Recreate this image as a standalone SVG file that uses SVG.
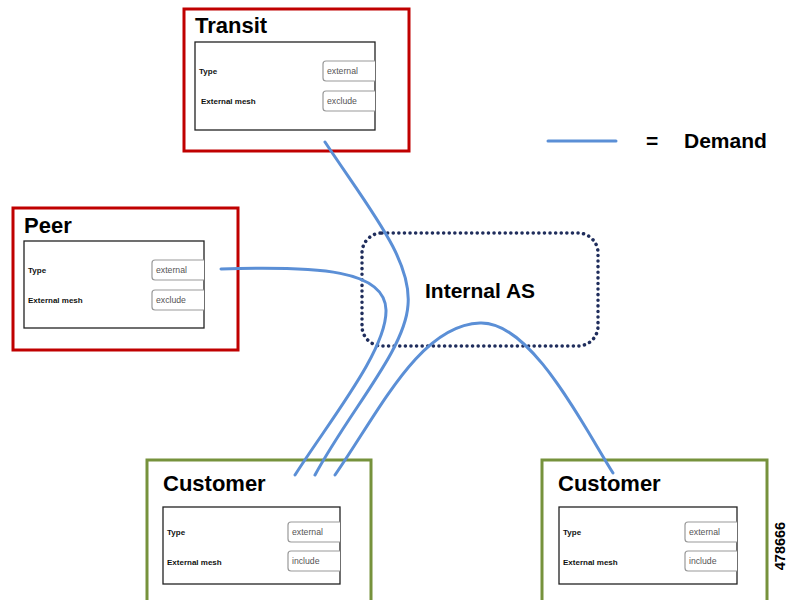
<svg xmlns="http://www.w3.org/2000/svg" width="788" height="600" viewBox="0 0 788 600">
<style>
.red{fill:#fff;stroke:#c00000;stroke-width:3}
.green{fill:#fff;stroke:#76923c;stroke-width:3}
.inner{fill:#fff;stroke:#222;stroke-width:1.3}
.field{fill:#fff;stroke:#999;stroke-width:1.2}
.title{font-family:"Liberation Sans",Arial,sans-serif;font-weight:bold;font-size:22px;fill:#000}
.lbl{font-family:"Liberation Sans",Arial,sans-serif;font-weight:bold;font-size:8px;fill:#111}
.val{font-family:"Liberation Sans",Arial,sans-serif;font-size:8.7px;fill:#555}
.big{font-family:"Liberation Sans",Arial,sans-serif;font-weight:bold;font-size:21px;fill:#000}
.demand{fill:none;stroke:#5b8fd6;stroke-width:3;stroke-linecap:round}
</style>
<g id="internal-as">
<rect x="362" y="233" width="236" height="113" rx="20" fill="none" stroke="#1f2d5c" stroke-width="3.5" stroke-dasharray="0.1 5.5" stroke-linecap="round"/>
<text class="big" x="425" y="298">Internal AS</text>
</g>
<g id="transit">
<rect class="red" x="184" y="9" width="225" height="142"/>
<text class="title" x="195" y="33">Transit</text>
<rect class="inner" x="195" y="42" width="180" height="88"/>
<text class="lbl" x="199" y="74">Type</text>
<text class="lbl" x="201" y="104">External mesh</text>
<path class="field" d="M375,61 H326 Q323,61 323,64 V78 Q323,81 326,81 H375"/>
<path class="field" d="M375,91 H326 Q323,91 323,94 V108 Q323,111 326,111 H375"/>
<text class="val" x="327" y="74">external</text>
<text class="val" x="327" y="104">exclude</text>
</g>
<g id="peer">
<rect class="red" x="13" y="208" width="225" height="142"/>
<text class="title" x="24" y="233">Peer</text>
<rect class="inner" x="24" y="241" width="180" height="87"/>
<text class="lbl" x="28" y="273">Type</text>
<text class="lbl" x="28" y="303">External mesh</text>
<path class="field" d="M204,260 H155 Q152,260 152,263 V277 Q152,280 155,280 H204"/>
<path class="field" d="M204,290 H155 Q152,290 152,293 V307 Q152,310 155,310 H204"/>
<text class="val" x="156" y="273">external</text>
<text class="val" x="156" y="303">exclude</text>
</g>
<g id="customer-left">
<rect class="green" x="147" y="460" width="224" height="150"/>
<text class="title" x="163" y="491">Customer</text>
<rect class="inner" x="163" y="507" width="177" height="77"/>
<text class="lbl" x="167" y="535">Type</text>
<text class="lbl" x="167" y="565">External mesh</text>
<path class="field" d="M340,522 H291 Q288,522 288,525 V539 Q288,542 291,542 H340"/>
<path class="field" d="M340,551 H291 Q288,551 288,554 V568 Q288,571 291,571 H340"/>
<text class="val" x="292" y="535">external</text>
<text class="val" x="292" y="564">include</text>
</g>
<g id="customer-right">
<rect class="green" x="542" y="460" width="225" height="150"/>
<text class="title" x="558" y="491">Customer</text>
<rect class="inner" x="559" y="507" width="178" height="77"/>
<text class="lbl" x="563" y="535">Type</text>
<text class="lbl" x="563" y="565">External mesh</text>
<path class="field" d="M737,522 H688 Q685,522 685,525 V539 Q685,542 688,542 H737"/>
<path class="field" d="M737,551 H688 Q685,551 685,554 V568 Q685,571 688,571 H737"/>
<text class="val" x="689" y="535">external</text>
<text class="val" x="689" y="564">include</text>
</g>
<g id="connectors">
<path class="demand" d="M325,142 C370,210 412,260 408,305 C405,350 350,410 315,475"/>
<path class="demand" d="M221,269 C320,266 385,270 386,310 C387,350 330,420 295,475"/>
<path class="demand" d="M335,475 C380,410 420,325 480,323 C530,321 580,420 613,473"/>
</g>
<g id="legend">
<line class="demand" x1="548" y1="141" x2="616" y2="141"/>
<text class="big" x="646" y="148">=</text>
<text class="big" x="684" y="148">Demand</text>
</g>
<text x="788" y="546" transform="rotate(-90 788 546)" text-anchor="middle" dy="-3" font-family="Liberation Sans,Arial,sans-serif" font-weight="bold" font-size="14.5" fill="#000">478666</text>
</svg>
